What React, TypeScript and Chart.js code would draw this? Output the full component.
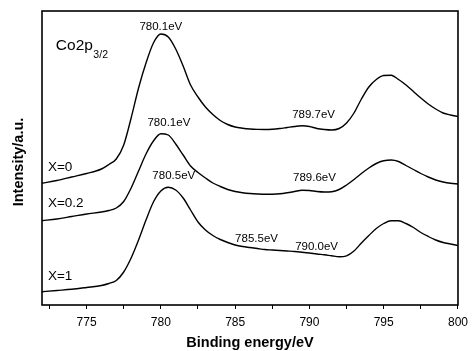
import React, { useEffect, useRef } from 'react';
import { Chart, registerables } from 'chart.js';

Chart.register(...registerables);

// Binding energy grid (eV)
const energy = [
  772, 773, 774, 775, 776, 776.5, 777, 777.5, 778, 778.5, 779, 779.5, 780, 780.5,
  781, 781.5, 782, 782.5, 783, 783.5, 784, 784.5, 785, 785.5, 786, 786.5, 787, 787.5,
  788, 788.5, 789, 789.5, 790, 790.5, 791, 791.5, 792, 792.5, 793, 793.5, 794, 794.5,
  795, 795.5, 796, 796.5, 797, 797.5, 798, 798.5, 799, 799.5, 800,
];

// Intensity (a.u., stacked offsets as in the figure)
const seriesX0 = [
  121.7, 124.5, 128, 131.5, 136, 140.5, 146, 160, 187, 217, 242, 262, 271, 268,
  256, 239, 220, 208, 198, 190.5, 184.5, 180.5, 178, 176.8, 176, 175.6, 175.5, 175.8,
  176.5, 177.5, 178.5, 179.2, 178.5, 176.5, 175.5, 175, 176.5, 182, 192, 206, 218, 225.5,
  229.5, 229.8, 225.5, 220, 213.5, 207, 201, 196, 192, 190, 188.5,
];
const seriesX02 = [
  84.3, 86, 88.5, 91, 93, 94.5, 97, 103.5, 117, 134, 151, 164, 171.3, 170,
  161, 150, 139, 132.5, 127, 122, 118.5, 115.5, 113.5, 112.3, 111.5, 111, 110.7, 110.8,
  111.2, 112.2, 113.5, 114.8, 114.5, 113.5, 113, 113.3, 115.5, 120, 125.5, 131.5, 137, 141.5,
  144.2, 145, 143.5, 139.5, 135.5, 131.5, 128, 125, 123, 121.7, 121,
];
const seriesX1 = [
  13.3, 14.5, 15.7, 17.5, 19.5, 21.5, 24.5, 33, 47, 65, 85, 103, 114, 117.7,
  115, 107, 95, 83, 75, 69.5, 65.5, 62.5, 60, 58.5, 57.5, 56.5, 55.5, 55,
  54.5, 54, 53.5, 52.8, 52, 51, 50.2, 49.2, 48.3, 49.2, 54, 62, 69.5, 76.5,
  81.5, 84.3, 84.2, 81.5, 77.5, 72.5, 68.5, 65, 62.5, 61, 59.5,
];

const xTicks = [772.5, 775, 777.5, 780, 782.5, 785, 787.5, 790, 792.5, 795, 797.5, 800];
const xMin = 772;
const xMax = 800;
const yMin = 0;
const yMax = 294;

const peakLabels = ['780.1eV', '780.1eV', '780.5eV', '789.7eV', '789.6eV', '785.5eV', '790.0eV'];
const peakLabelX = [780.0, 780.54, 780.87, 790.28, 790.34, 786.44, 790.48];
const peakLabelY = [278, 182, 129, 190, 127, 66, 58];

const seriesNames = ['X=0', 'X=0.2', 'X=1'];
const seriesNameY = [138, 102, 29];
const seriesNameX = 772.4;

const FONT = '"Liberation Sans", Arial, Helvetica, sans-serif';

const overlay = {
  id: 'overlay',
  afterDraw(chart: any) {
    const { ctx, chartArea: a, scales } = chart;
    const xs = scales.x;
    const ys = scales.y;
    ctx.save();
    ctx.strokeStyle = '#000';
    ctx.lineWidth = 1.6;
    ctx.strokeRect(a.left, a.top, a.right - a.left, a.bottom - a.top);

    ctx.fillStyle = '#000';
    ctx.textBaseline = 'middle';
    ctx.textAlign = 'center';
    ctx.font = `11.5px ${FONT}`;
    peakLabels.forEach((t, i) => {
      ctx.fillText(t, xs.getPixelForValue(peakLabelX[i]), ys.getPixelForValue(peakLabelY[i]));
    });

    ctx.textAlign = 'left';
    ctx.font = `13.5px ${FONT}`;
    seriesNames.forEach((t, i) => {
      ctx.fillText(t, xs.getPixelForValue(seriesNameX), ys.getPixelForValue(seriesNameY[i]));
    });

    // Co2p3/2
    const cx = xs.getPixelForValue(772.93);
    const cy = ys.getPixelForValue(259);
    ctx.font = `15.5px ${FONT}`;
    ctx.fillText('Co2p', cx, cy);
    const w = ctx.measureText('Co2p').width;
    ctx.font = `10.5px ${FONT}`;
    ctx.fillText('3/2', cx + w + 0.5, cy + 9);

    // Axis titles
    ctx.font = `bold 14.5px ${FONT}`;
    ctx.textAlign = 'center';
    ctx.fillText('Binding energy/eV', (a.left + a.right) / 2, 343);
    ctx.save();
    ctx.translate(19, 162);
    ctx.rotate(-Math.PI / 2);
    ctx.fillText('Intensity/a.u.', 0, 0);
    ctx.restore();
    ctx.restore();
  },
};

export default function App() {
  const ref = useRef<HTMLCanvasElement | null>(null);
  useEffect(() => {
    if (!ref.current) return;
    const mk = (vals: number[]) => ({
      data: energy.map((e, i) => ({ x: e, y: vals[i] })),
      borderColor: '#000',
      borderWidth: 1.4,
      pointRadius: 0,
      fill: false,
      cubicInterpolationMode: 'monotone' as const,
    });
    const chart = new Chart(ref.current, {
      type: 'line',
      data: { datasets: [mk(seriesX0), mk(seriesX02), mk(seriesX1)] },
      options: {
        animation: false,
        responsive: false,
        maintainAspectRatio: false,
        layout: { padding: { left: 42, top: 11, right: 9, bottom: 0 } },
        plugins: { legend: { display: false }, tooltip: { enabled: false } },
        scales: {
          x: {
            type: 'linear',
            min: xMin,
            max: xMax,
            afterBuildTicks: (scale: any) => {
              scale.ticks = xTicks.map((v) => ({ value: v }));
            },
            afterFit: (scale: any) => {
              scale.height = 46;
            },
            border: { display: false },
            grid: {
              display: true,
              drawOnChartArea: false,
              drawTicks: true,
              tickLength: 4,
              color: '#000',
              lineWidth: 1,
            },
            ticks: {
              autoSkip: false,
              maxRotation: 0,
              padding: 6,
              color: '#000',
              font: { family: FONT, size: 12 },
              callback: (v: any) => (Number(v) % 5 === 0 ? String(v) : ''),
            },
          },
          y: { display: false, min: yMin, max: yMax },
        },
      },
      plugins: [overlay],
    });
    return () => chart.destroy();
  }, []);
  return (
    <div style={{ position: 'absolute', left: 0, top: 0, width: 474, height: 351, background: '#fff' }}>
      <canvas ref={ref} width={474} height={351} style={{ width: 474, height: 351 }} />
    </div>
  );
}
